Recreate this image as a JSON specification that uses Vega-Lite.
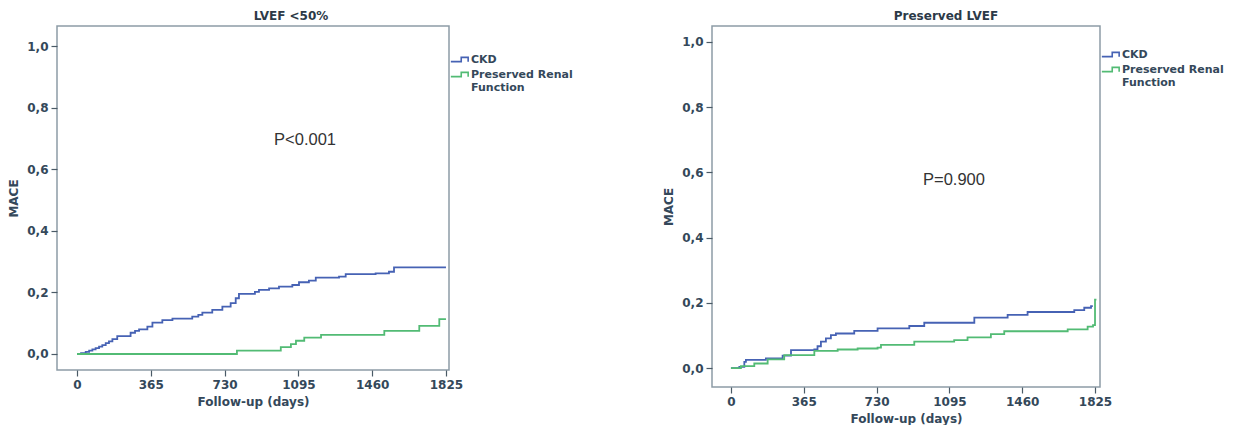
{
  "$schema": "https://vega.github.io/schema/vega-lite/v6.json",
  "background": "white",
  "padding": {"left": 6, "top": 9, "right": 0, "bottom": 0},
  "datasets": {
    "curves": [
      {"panel": "L", "group": "CKD", "day": 0, "mace": 0},
      {"panel": "L", "group": "CKD", "day": 20, "mace": 0.003},
      {"panel": "L", "group": "CKD", "day": 43, "mace": 0.007},
      {"panel": "L", "group": "CKD", "day": 60, "mace": 0.011},
      {"panel": "L", "group": "CKD", "day": 76, "mace": 0.015},
      {"panel": "L", "group": "CKD", "day": 92, "mace": 0.019},
      {"panel": "L", "group": "CKD", "day": 109, "mace": 0.024},
      {"panel": "L", "group": "CKD", "day": 125, "mace": 0.029},
      {"panel": "L", "group": "CKD", "day": 142, "mace": 0.035},
      {"panel": "L", "group": "CKD", "day": 158, "mace": 0.041},
      {"panel": "L", "group": "CKD", "day": 175, "mace": 0.048},
      {"panel": "L", "group": "CKD", "day": 199, "mace": 0.058},
      {"panel": "L", "group": "CKD", "day": 265, "mace": 0.069},
      {"panel": "L", "group": "CKD", "day": 287, "mace": 0.075},
      {"panel": "L", "group": "CKD", "day": 307, "mace": 0.08},
      {"panel": "L", "group": "CKD", "day": 348, "mace": 0.089},
      {"panel": "L", "group": "CKD", "day": 373, "mace": 0.102},
      {"panel": "L", "group": "CKD", "day": 422, "mace": 0.11},
      {"panel": "L", "group": "CKD", "day": 472, "mace": 0.115},
      {"panel": "L", "group": "CKD", "day": 570, "mace": 0.121},
      {"panel": "L", "group": "CKD", "day": 600, "mace": 0.127},
      {"panel": "L", "group": "CKD", "day": 620, "mace": 0.134},
      {"panel": "L", "group": "CKD", "day": 669, "mace": 0.143},
      {"panel": "L", "group": "CKD", "day": 719, "mace": 0.154},
      {"panel": "L", "group": "CKD", "day": 760, "mace": 0.165},
      {"panel": "L", "group": "CKD", "day": 785, "mace": 0.181},
      {"panel": "L", "group": "CKD", "day": 801, "mace": 0.195},
      {"panel": "L", "group": "CKD", "day": 880, "mace": 0.202},
      {"panel": "L", "group": "CKD", "day": 900, "mace": 0.208},
      {"panel": "L", "group": "CKD", "day": 950, "mace": 0.213},
      {"panel": "L", "group": "CKD", "day": 999, "mace": 0.219},
      {"panel": "L", "group": "CKD", "day": 1065, "mace": 0.224},
      {"panel": "L", "group": "CKD", "day": 1098, "mace": 0.233},
      {"panel": "L", "group": "CKD", "day": 1147, "mace": 0.238},
      {"panel": "L", "group": "CKD", "day": 1181, "mace": 0.248},
      {"panel": "L", "group": "CKD", "day": 1296, "mace": 0.251},
      {"panel": "L", "group": "CKD", "day": 1329, "mace": 0.259},
      {"panel": "L", "group": "CKD", "day": 1477, "mace": 0.262},
      {"panel": "L", "group": "CKD", "day": 1543, "mace": 0.267},
      {"panel": "L", "group": "CKD", "day": 1568, "mace": 0.281},
      {"panel": "L", "group": "CKD", "day": 1825, "mace": 0.281},
      {"panel": "L", "group": "Preserved Renal Function", "day": 0, "mace": 0},
      {"panel": "L", "group": "Preserved Renal Function", "day": 791, "mace": 0.011},
      {"panel": "L", "group": "Preserved Renal Function", "day": 1008, "mace": 0.022},
      {"panel": "L", "group": "Preserved Renal Function", "day": 1058, "mace": 0.032},
      {"panel": "L", "group": "Preserved Renal Function", "day": 1083, "mace": 0.043},
      {"panel": "L", "group": "Preserved Renal Function", "day": 1124, "mace": 0.053},
      {"panel": "L", "group": "Preserved Renal Function", "day": 1207, "mace": 0.062},
      {"panel": "L", "group": "Preserved Renal Function", "day": 1520, "mace": 0.075},
      {"panel": "L", "group": "Preserved Renal Function", "day": 1693, "mace": 0.091},
      {"panel": "L", "group": "Preserved Renal Function", "day": 1792, "mace": 0.113},
      {"panel": "L", "group": "Preserved Renal Function", "day": 1825, "mace": 0.113},
      {"panel": "R", "group": "CKD", "day": 0, "mace": 0},
      {"panel": "R", "group": "CKD", "day": 42, "mace": 0.004},
      {"panel": "R", "group": "CKD", "day": 67, "mace": 0.019},
      {"panel": "R", "group": "CKD", "day": 75, "mace": 0.025},
      {"panel": "R", "group": "CKD", "day": 175, "mace": 0.03},
      {"panel": "R", "group": "CKD", "day": 259, "mace": 0.038},
      {"panel": "R", "group": "CKD", "day": 301, "mace": 0.055},
      {"panel": "R", "group": "CKD", "day": 418, "mace": 0.057},
      {"panel": "R", "group": "CKD", "day": 434, "mace": 0.067},
      {"panel": "R", "group": "CKD", "day": 451, "mace": 0.081},
      {"panel": "R", "group": "CKD", "day": 476, "mace": 0.091},
      {"panel": "R", "group": "CKD", "day": 501, "mace": 0.101},
      {"panel": "R", "group": "CKD", "day": 526, "mace": 0.106},
      {"panel": "R", "group": "CKD", "day": 618, "mace": 0.114},
      {"panel": "R", "group": "CKD", "day": 735, "mace": 0.122},
      {"panel": "R", "group": "CKD", "day": 894, "mace": 0.129},
      {"panel": "R", "group": "CKD", "day": 969, "mace": 0.139},
      {"panel": "R", "group": "CKD", "day": 1220, "mace": 0.155},
      {"panel": "R", "group": "CKD", "day": 1387, "mace": 0.163},
      {"panel": "R", "group": "CKD", "day": 1487, "mace": 0.172},
      {"panel": "R", "group": "CKD", "day": 1721, "mace": 0.178},
      {"panel": "R", "group": "CKD", "day": 1771, "mace": 0.185},
      {"panel": "R", "group": "CKD", "day": 1805, "mace": 0.19},
      {"panel": "R", "group": "CKD", "day": 1814, "mace": 0.19},
      {"panel": "R", "group": "Preserved Renal Function", "day": 0, "mace": 0},
      {"panel": "R", "group": "Preserved Renal Function", "day": 50, "mace": 0.006},
      {"panel": "R", "group": "Preserved Renal Function", "day": 117, "mace": 0.014},
      {"panel": "R", "group": "Preserved Renal Function", "day": 184, "mace": 0.027},
      {"panel": "R", "group": "Preserved Renal Function", "day": 267, "mace": 0.04},
      {"panel": "R", "group": "Preserved Renal Function", "day": 418, "mace": 0.053},
      {"panel": "R", "group": "Preserved Renal Function", "day": 535, "mace": 0.057},
      {"panel": "R", "group": "Preserved Renal Function", "day": 635, "mace": 0.06},
      {"panel": "R", "group": "Preserved Renal Function", "day": 735, "mace": 0.063},
      {"panel": "R", "group": "Preserved Renal Function", "day": 752, "mace": 0.071},
      {"panel": "R", "group": "Preserved Renal Function", "day": 919, "mace": 0.081},
      {"panel": "R", "group": "Preserved Renal Function", "day": 1119, "mace": 0.086},
      {"panel": "R", "group": "Preserved Renal Function", "day": 1186, "mace": 0.094},
      {"panel": "R", "group": "Preserved Renal Function", "day": 1303, "mace": 0.104},
      {"panel": "R", "group": "Preserved Renal Function", "day": 1370, "mace": 0.113},
      {"panel": "R", "group": "Preserved Renal Function", "day": 1688, "mace": 0.119},
      {"panel": "R", "group": "Preserved Renal Function", "day": 1788, "mace": 0.127},
      {"panel": "R", "group": "Preserved Renal Function", "day": 1815, "mace": 0.132},
      {"panel": "R", "group": "Preserved Renal Function", "day": 1825, "mace": 0.21},
      {"panel": "R", "group": "Preserved Renal Function", "day": 1832, "mace": 0.21}
    ],
    "notes": [
      {"panel": "L", "day": 1128, "mace": 0.695, "label": "P<0.001"},
      {"panel": "R", "day": 1118, "mace": 0.577, "label": "P=0.900"}
    ]
  },
  "config": {
    "view": {"stroke": "#8d9ca6", "strokeWidth": 1.5},
    "font": "DejaVu Sans",
    "axis": {
      "grid": false,
      "domain": false,
      "tickColor": "#4a5a66",
      "tickSize": 6,
      "tickWidth": 1.2,
      "labelPadding": 3,
      "titlePadding": 6,
      "labelFont": "DejaVu Sans",
      "labelFontWeight": "bold",
      "labelFontSize": 12,
      "labelColor": "#34485a",
      "titleFont": "DejaVu Sans",
      "titleFontWeight": "bold",
      "titleFontSize": 12,
      "titleColor": "#34485a"
    },
    "legend": {
      "orient": "right",
      "offset": 0,
      "padding": 0,
      "titleFontSize": 11,
      "titlePadding": 13,
      "symbolType": "M-1,0.25H0.2V-0.25H1V0.25",
      "symbolSize": 300,
      "symbolStrokeWidth": 1.6,
      "symbolFillColor": "transparent",
      "labelFont": "DejaVu Sans",
      "labelFontWeight": "bold",
      "labelFontSize": 11,
      "labelColor": "#34485a",
      "labelOffset": 2,
      "rowPadding": 0,
      "labelLimit": 200
    },
    "title": {
      "font": "DejaVu Sans",
      "fontWeight": "bold",
      "fontSize": 12,
      "color": "#2c3a48",
      "offset": 3
    }
  },
  "resolve": {"legend": {"color": "independent"}, "scale": {"x": "independent", "y": "independent", "color": "independent"}},
  "spacing": 87,
  "hconcat": [
    {
      "width": 392,
      "height": 344,
      "title": {"text": "LVEF <50%", "anchor": "middle", "dx": 38},
      "layer": [
        {
          "data": {"name": "curves"},
          "transform": [{"filter": "datum.panel == 'L'"}],
          "mark": {"type": "line", "interpolate": "step-after", "strokeWidth": 1.8},
          "encoding": {
            "x": {"field": "day", "type": "quantitative", "scale": {"domain": [-99, 1840], "nice": false, "zero": false},
              "axis": {"values": [0, 365, 730, 1095, 1460, 1825], "format": "d", "title": "Follow-up (days)"}},
            "y": {"field": "mace", "type": "quantitative", "scale": {"domain": [-0.052, 1.065], "nice": false, "zero": false},
              "axis": {"values": [0, 0.2, 0.4, 0.6, 0.8, 1.0], "title": "MACE", "labelExpr": "replace(format(datum.value, '.1f'), '.', ',')"}},
            "color": {"field": "group", "type": "nominal",
              "scale": {"domain": ["CKD", "Preserved Renal Function"], "range": ["#4662b4", "#52bb74"]},
              "legend": {"title": " ", "labelExpr": "datum.label == 'Preserved Renal Function' ? ['Preserved Renal', 'Function'] : datum.label"}}
          }
        },
        {
          "data": {"name": "notes"},
          "transform": [{"filter": "datum.panel == 'L'"}],
          "mark": {"type": "text", "font": "Liberation Sans", "fontSize": 16.5, "color": "#333333"},
          "encoding": {
            "x": {"field": "day", "type": "quantitative"},
            "y": {"field": "mace", "type": "quantitative"},
            "text": {"field": "label"}
          }
        }
      ]
    },
    {
      "width": 388,
      "height": 361,
      "title": {"text": "Preserved LVEF", "anchor": "middle", "dx": 40},
      "layer": [
        {
          "data": {"name": "curves"},
          "transform": [{"filter": "datum.panel == 'R'"}],
          "mark": {"type": "line", "interpolate": "step-after", "strokeWidth": 1.8},
          "encoding": {
            "x": {"field": "day", "type": "quantitative", "scale": {"domain": [-95, 1850], "nice": false, "zero": false},
              "axis": {"values": [0, 365, 730, 1095, 1460, 1825], "format": "d", "title": "Follow-up (days)"}},
            "y": {"field": "mace", "type": "quantitative", "scale": {"domain": [-0.058, 1.049], "nice": false, "zero": false},
              "axis": {"values": [0, 0.2, 0.4, 0.6, 0.8, 1.0], "title": "MACE", "labelExpr": "replace(format(datum.value, '.1f'), '.', ',')"}},
            "color": {"field": "group", "type": "nominal",
              "scale": {"domain": ["CKD", "Preserved Renal Function"], "range": ["#4662b4", "#52bb74"]},
              "legend": {"title": " ", "titlePadding": 8, "labelExpr": "datum.label == 'Preserved Renal Function' ? ['Preserved Renal', 'Function'] : datum.label"}}
          }
        },
        {
          "data": {"name": "notes"},
          "transform": [{"filter": "datum.panel == 'R'"}],
          "mark": {"type": "text", "font": "Liberation Sans", "fontSize": 16.5, "color": "#333333"},
          "encoding": {
            "x": {"field": "day", "type": "quantitative"},
            "y": {"field": "mace", "type": "quantitative"},
            "text": {"field": "label"}
          }
        }
      ]
    }
  ]
}
